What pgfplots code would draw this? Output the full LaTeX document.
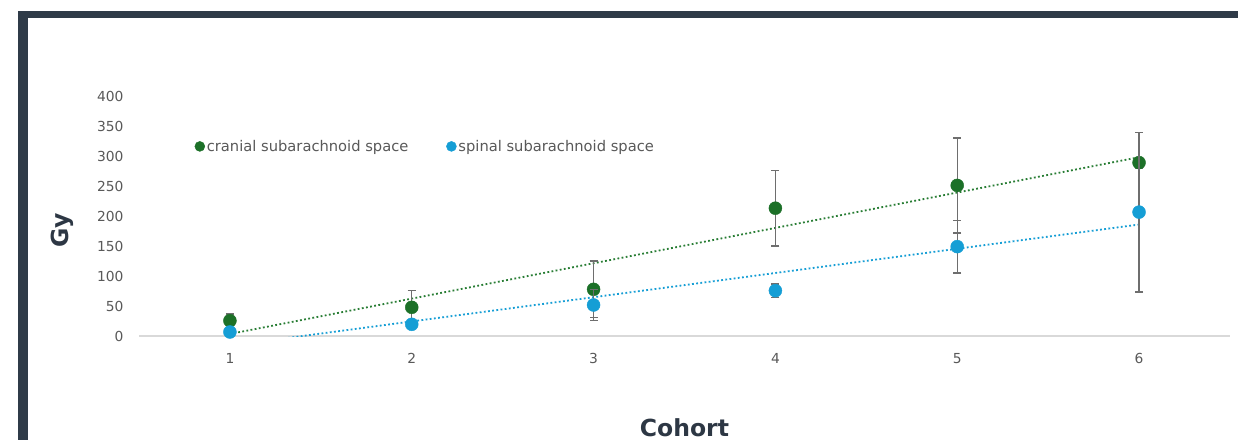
\documentclass[border=0pt]{standalone}
\usepackage{pgfplots}
\pgfplotsset{compat=1.18}
\usepackage{fontspec}
\setmainfont{DejaVu Sans}
\definecolor{cgreen}{RGB}{28,112,40}
\definecolor{cgreenl}{RGB}{40,125,52}
\definecolor{cblue}{RGB}{21,158,213}
\definecolor{framec}{RGB}{47,59,72}
\definecolor{tickgray}{RGB}{89,89,89}
\definecolor{labeldark}{RGB}{45,55,68}
\definecolor{errgray}{RGB}{110,110,110}
\definecolor{axgray}{RGB}{217,217,217}
\begin{document}
\begin{tikzpicture}[x=1pt,y=1pt]
\fill[white] (0,0) rectangle (1238,440);
\useasboundingbox (0,0) rectangle (1238,440);
\fill[framec] (18,422) rectangle (1238,429);
\fill[framec] (18,0) rectangle (28,429);
\begin{axis}[
  at={(139pt,104pt)}, anchor=south west,
  scale only axis, width=1091pt, height=240pt,
  xmin=0.5, xmax=6.5, ymin=0, ymax=400,
  clip mode=individual,
  axis x line*=bottom, axis y line*=left,
  x axis line style={draw=axgray, line width=1.3pt, -},
  y axis line style={draw=none},
  xtick={1,2,3,4,5,6}, ytick={0,50,...,400},
  major tick length=0pt,
  /pgf/number format/assume math mode=true,
  tick label style={font=\fontsize{13.8}{16}\selectfont, text=tickgray},
  yticklabel style={xshift=-12pt},
  xticklabel style={yshift=-14pt},
  xlabel={Cohort}, ylabel={Gy},
  label style={font=\bfseries\fontsize{23.5}{27}\selectfont, text=labeldark},
  xlabel style={at={(axis description cs:0.5,0)}, anchor=base, yshift=-100pt},
  ylabel style={at={(axis description cs:-0.07,0.44)}, anchor=center},
  legend style={at={(axis description cs:0.051,0.79)}, anchor=west, draw=none, fill=none, inner sep=0pt,
    font=\fontsize{14.7}{17}\selectfont, text=tickgray,
    /tikz/every even column/.append style={column sep=36pt}},
  legend columns=2,
  legend cell align=left,
  legend image code/.code={\draw[mark=*, mark size=5pt, mark options={draw=none}] plot coordinates {(0pt,0pt)};},
]
% linear trend lines
\addplot[forget plot, cgreenl, line width=1.8pt, dash pattern=on 1.8pt off 2.4pt] coordinates {(1,3.4) (6,298.0)};
\addplot[forget plot, cblue, line width=1.8pt, dash pattern=on 1.8pt off 2.4pt] coordinates {(1,-16.1) (6,185.8)};
% data
\addplot[only marks, mark=*, mark size=6.5pt, color=cgreen, mark options={draw=none, fill=cgreen},
  error bars/.cd, y dir=both, y explicit,
  error bar style={draw=errgray, line width=1.4pt},
  error mark options={rotate=90, mark size=4pt, draw=errgray, line width=1.4pt}]
  coordinates {
  (1,25.5) +- (0,11)
  (2,47.8) +- (0,28)
  (3,77.8) +- (0,47)
  (4,213) +- (0,63)
  (5,251) +- (0,79)
  (6,289) +- (0,9)
  };
\addlegendentry{cranial subarachnoid space}
\addplot[only marks, mark=*, mark size=6.5pt, color=cblue, mark options={draw=none, fill=cblue},
  error bars/.cd, y dir=both, y explicit,
  error bar style={draw=errgray, line width=1.4pt},
  error mark options={rotate=90, mark size=4pt, draw=errgray, line width=1.4pt}]
  coordinates {
  (1,6.7) +- (0,3)
  (2,19.5) +- (0,5)
  (3,51.7) +- (0,26)
  (4,75.5) +- (0,11)
  (5,149) +- (0,44)
  (6,206.5) +- (0,133)
  };
\addlegendentry{spinal subarachnoid space}
\end{axis}
\end{tikzpicture}
\end{document}
